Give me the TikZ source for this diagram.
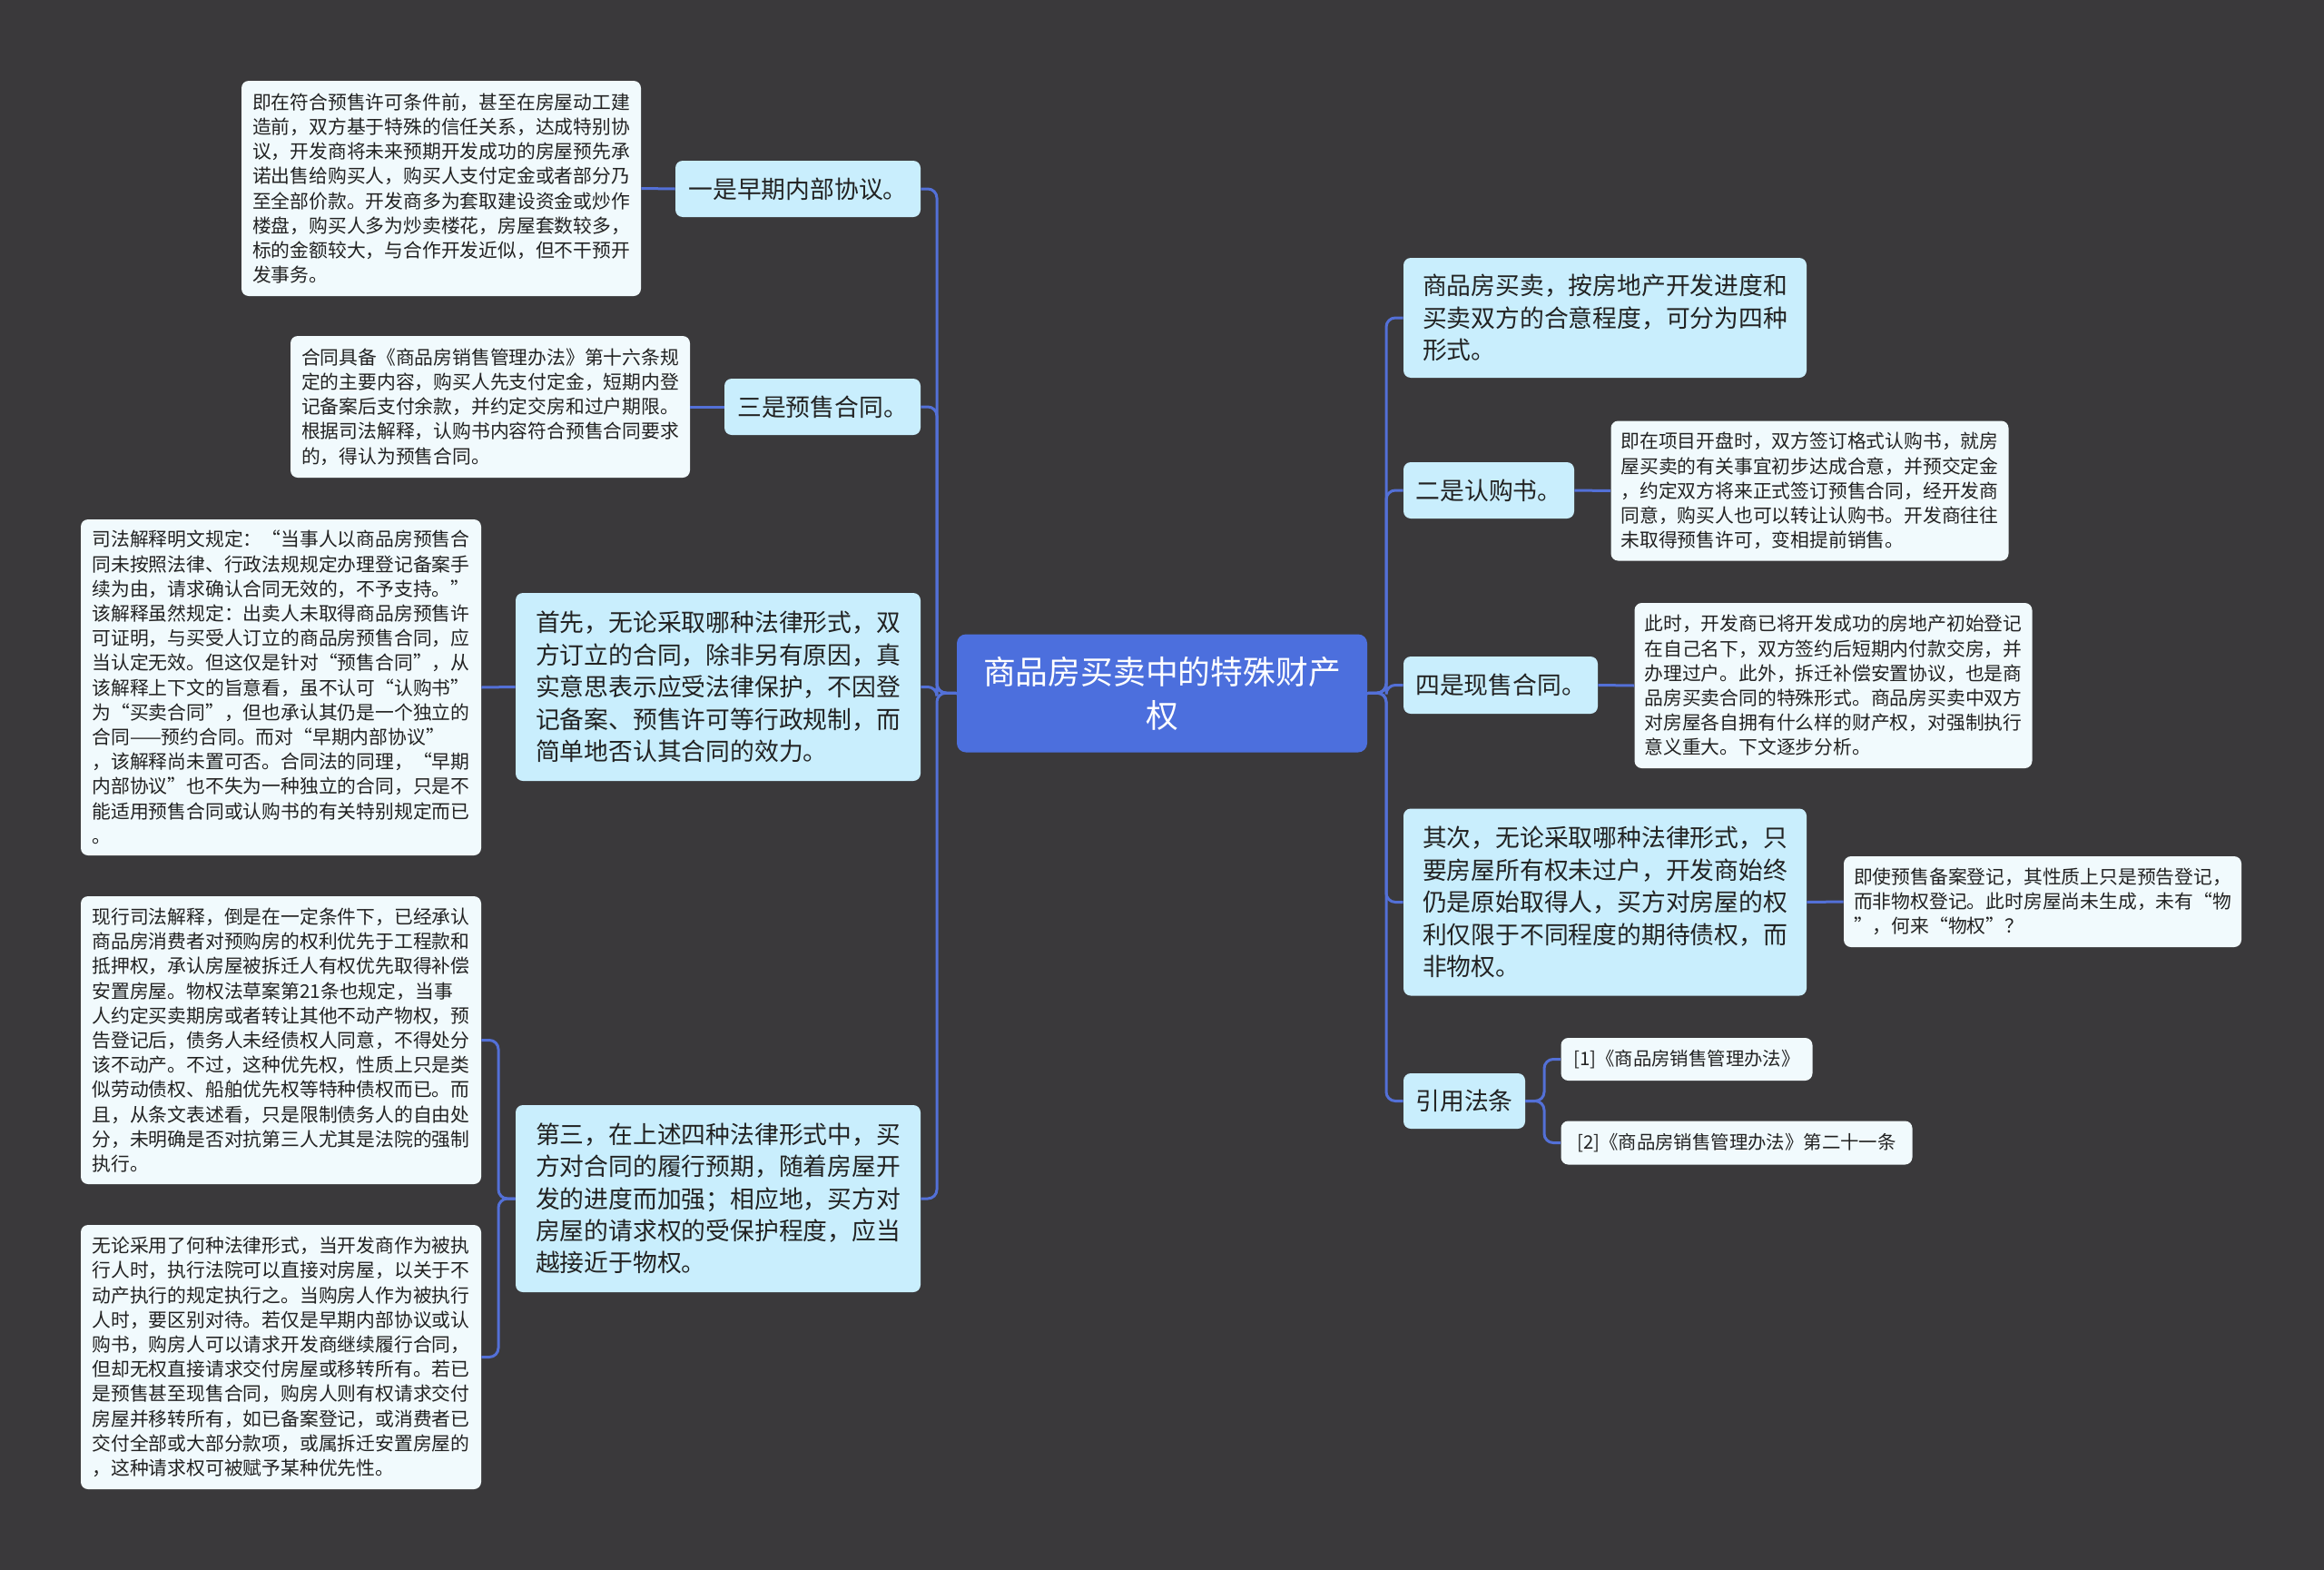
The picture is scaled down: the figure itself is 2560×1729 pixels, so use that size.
\documentclass[tikz,border=0pt]{standalone}
\usepackage{fontspec}
\newfontfamily\cjk{Noto Sans CJK SC}
\definecolor{bgcol}{RGB}{58,57,59}
\definecolor{rootcol}{RGB}{76,111,221}
\definecolor{linkcol}{RGB}{83,112,215}
\definecolor{branchcol}{RGB}{201,238,253}
\definecolor{leafcol}{RGB}{241,250,253}
\definecolor{txtcol}{RGB}{34,34,34}
\begin{document}
\begin{tikzpicture}[x=0.5pt,y=-0.5pt,
  link/.style={draw=linkcol,line width=1.5pt,rounded corners=5pt},
  box/.style={rounded corners=4pt,align=left,inner sep=0pt,text=txtcol},
  branch/.style={box,fill=branchcol,font=\cjk\fontsize{13.4}{17.7}\selectfont},
  leaf/.style={box,fill=leafcol,font=\cjk\fontsize{10.4}{13.6}\selectfont},
  rootbox/.style={rounded corners=5pt,fill=rootcol,text=white,align=center,
    font=\cjk\fontsize{17.9}{24}\selectfont}]
\useasboundingbox (0,0) rectangle (2560,1729);
\fill[bgcol] (0,0) rectangle (2560,1729);
% centre
\node[rootbox,minimum width=226pt,minimum height=65pt] (root) at (1280,763.5)
  {商品房买卖中的特殊财产\\权};
% left side
\node[branch,minimum width=135pt,minimum height=31pt] (early) at (879,208)
  {一是早期内部协议。};
\node[leaf,minimum width=220pt,minimum height=118.5pt] (earlyleaf) at (486,207.5)
  {即在符合预售许可条件前，甚至在房屋动工建\\
   造前，双方基于特殊的信任关系，达成特别协\\
   议，开发商将未来预期开发成功的房屋预先承\\
   诺出售给购买人，购买人支付定金或者部分乃\\
   至全部价款。开发商多为套取建设资金或炒作\\
   楼盘，购买人多为炒卖楼花，房屋套数较多，\\
   标的金额较大，与合作开发近似，但不干预开\\
   发事务。};
\node[branch,minimum width=108pt,minimum height=31pt] (presale) at (906,448)
  {三是预售合同。};
\node[leaf,minimum width=220pt,minimum height=78pt] (presaleleaf) at (540,448)
  {合同具备《商品房销售管理办法》第十六条规\\
   定的主要内容，购买人先支付定金，短期内登\\
   记备案后支付余款，并约定交房和过户期限。\\
   根据司法解释，认购书内容符合预售合同要求\\
   的，得认为预售合同。};
\node[branch,minimum width=223pt,minimum height=103.5pt] (first) at (791,756.5)
  {首先，无论采取哪种法律形式，双\\
   方订立的合同，除非另有原因，真\\
   实意思表示应受法律保护，不因登\\
   记备案、预售许可等行政规制，而\\
   简单地否认其合同的效力。};
\node[leaf,minimum width=220.5pt,minimum height=185pt] (firstleaf) at (309.5,757)
  {司法解释明文规定：“当事人以商品房预售合\\
   同未按照法律、行政法规规定办理登记备案手\\
   续为由，请求确认合同无效的，不予支持。”\\
   该解释虽然规定：出卖人未取得商品房预售许\\
   可证明，与买受人订立的商品房预售合同，应\\
   当认定无效。但这仅是针对“预售合同”，从\\
   该解释上下文的旨意看，虽不认可“认购书”\\
   为“买卖合同”，但也承认其仍是一个独立的\\
   合同——预约合同。而对“早期内部协议”\\
   ，该解释尚未置可否。合同法的同理，“早期\\
   内部协议”也不失为一种独立的合同，只是不\\
   能适用预售合同或认购书的有关特别规定而已\\
   。};
\node[branch,minimum width=223pt,minimum height=103pt] (third) at (791,1320)
  {第三，在上述四种法律形式中，买\\
   方对合同的履行预期，随着房屋开\\
   发的进度而加强；相应地，买方对\\
   房屋的请求权的受保护程度，应当\\
   越接近于物权。};
\node[leaf,minimum width=220.5pt,minimum height=158.5pt] (thirdleafa) at (309.5,1145.5)
  {现行司法解释，倒是在一定条件下，已经承认\\
   商品房消费者对预购房的权利优先于工程款和\\
   抵押权，承认房屋被拆迁人有权优先取得补偿\\
   安置房屋。物权法草案第21条也规定，当事\\
   人约定买卖期房或者转让其他不动产物权，预\\
   告登记后，债务人未经债权人同意，不得处分\\
   该不动产。不过，这种优先权，性质上只是类\\
   似劳动债权、船舶优先权等特种债权而已。而\\
   且，从条文表述看，只是限制债务人的自由处\\
   分，未明确是否对抗第三人尤其是法院的强制\\
   执行。};
\node[leaf,minimum width=220.5pt,minimum height=145.5pt] (thirdleafb) at (309.5,1494.5)
  {无论采用了何种法律形式，当开发商作为被执\\
   行人时，执行法院可以直接对房屋，以关于不\\
   动产执行的规定执行之。当购房人作为被执行\\
   人时，要区别对待。若仅是早期内部协议或认\\
   购书，购房人可以请求开发商继续履行合同，\\
   但却无权直接请求交付房屋或移转所有。若已\\
   是预售甚至现售合同，购房人则有权请求交付\\
   房屋并移转所有，如已备案登记，或消费者已\\
   交付全部或大部分款项，或属拆迁安置房屋的\\
   ，这种请求权可被赋予某种优先性。};
% right side
\node[branch,minimum width=222pt,minimum height=66pt] (forms) at (1768,350)
  {商品房买卖，按房地产开发进度和\\
   买卖双方的合意程度，可分为四种\\
   形式。};
\node[branch,minimum width=94pt,minimum height=31pt] (subscr) at (1640,540)
  {二是认购书。};
\node[leaf,minimum width=219pt,minimum height=77pt] (subscrleaf) at (1993.5,540.5)
  {即在项目开盘时，双方签订格式认购书，就房\\
   屋买卖的有关事宜初步达成合意，并预交定金\\
   ，约定双方将来正式签订预售合同，经开发商\\
   同意，购买人也可以转让认购书。开发商往往\\
   未取得预售许可，变相提前销售。};
\node[branch,minimum width=107pt,minimum height=31.5pt] (spot) at (1653,754.5)
  {四是现售合同。};
\node[leaf,minimum width=219pt,minimum height=91pt] (spotleaf) at (2019.5,755)
  {此时，开发商已将开发成功的房地产初始登记\\
   在自己名下，双方签约后短期内付款交房，并\\
   办理过户。此外，拆迁补偿安置协议，也是商\\
   品房买卖合同的特殊形式。商品房买卖中双方\\
   对房屋各自拥有什么样的财产权，对强制执行\\
   意义重大。下文逐步分析。};
\node[branch,minimum width=222pt,minimum height=103pt] (second) at (1768,993.5)
  {其次，无论采取哪种法律形式，只\\
   要房屋所有权未过户，开发商始终\\
   仍是原始取得人，买方对房屋的权\\
   利仅限于不同程度的期待债权，而\\
   非物权。};
\node[leaf,minimum width=219pt,minimum height=50pt] (secondleaf) at (2250,993)
  {即使预售备案登记，其性质上只是预告登记，\\
   而非物权登记。此时房屋尚未生成，未有“物\\
   ”，何来“物权”？};
\node[branch,minimum width=67pt,minimum height=30.5pt] (cite) at (1613,1212.5)
  {引用法条};
\node[leaf,font=\cjk\fontsize{10.2}{13}\selectfont,minimum width=138.5pt,minimum height=23.5pt]
  (citea) at (1858,1166.5) {[1]《商品房销售管理办法》};
\node[leaf,font=\cjk\fontsize{10.2}{13}\selectfont,minimum width=193.5pt,minimum height=24pt]
  (citeb) at (1913,1258.5) {[2]《商品房销售管理办法》第二十一条};
% connectors
\coordinate (lspine) at (1032,763);
\coordinate (rspine) at (1527,763);
\coordinate (lfork) at (549,1320);
\coordinate (rfork) at (1701,1212.5);
\foreach \b in {early,presale,first,third}
  \draw[link] (root.west) -- (lspine) |- (\b.east);
\foreach \b in {forms,subscr,spot,second,cite}
  \draw[link] (root.east) -- (rspine) |- (\b.west);
\draw[link] (early.west) -- (earlyleaf.east);
\draw[link] (presale.west) -- (presaleleaf.east);
\draw[link] (first.west) -- (firstleaf.east);
\draw[link] (third.west) -- (lfork) |- (thirdleafa.east);
\draw[link] (third.west) -- (lfork) |- (thirdleafb.east);
\draw[link] (subscr.east) -- (subscrleaf.west);
\draw[link] (spot.east) -- (spotleaf.west);
\draw[link] (second.east) -- (secondleaf.west);
\draw[link] (cite.east) -- (rfork) |- (citea.west);
\draw[link] (cite.east) -- (rfork) |- (citeb.west);
\end{tikzpicture}
\end{document}
